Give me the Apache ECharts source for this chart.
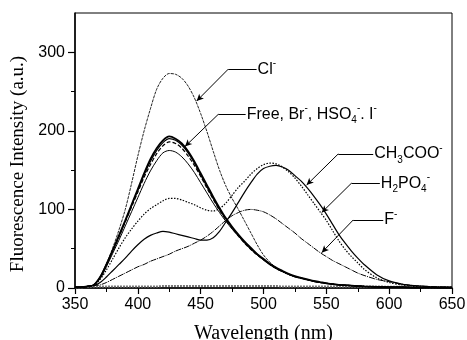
<!DOCTYPE html>
<html>
<head>
<meta charset="utf-8">
<script src="https://cdn.jsdelivr.net/npm/echarts@6/dist/echarts.min.js"></script>
<style>
  html, body { margin: 0; padding: 0; background: #fff; }
  #chart { width: 467px; height: 340px; }
</style>
</head>
<body>
<div id="chart"></div>
<script>
// wavelength grid (nm) shared by every spectrum
const wavelength = [350,355,360,365,370,375,380,385,390,395,400,405,410,415,420,425,430,435,440,445,450,455,460,465,470,475,480,485,490,495,500,505,510,515,520,525,530,535,540,545,550,555,560,565,570,575,580,590,600,610,620,630,640,650];

const clValues    = [1,1,2,4,14,31,51,74,100,133,168,200,228,253,267,273,272,267,257,242,222,199,174,150,130,114,100,85,70,55,42,33,26,21,17,14,12,10,8.5,7,6,5,4,3.5,3,2.5,2,1.5,1,1,0.5,0.5,0.3,0.3];
const freeValues  = [1,1,2,4,14,30,48,67,86,106,126,146,164,178,188,193,190,184,174,161,146,131,116,102,89,78,68,59,51,43,37,31,26,22,18,15,13,11,9,7.5,6,5,4,3.5,3,2.5,2,1.5,1,1,0.5,0.5,0.3,0.3];
const brValues    = [1,1,2,4,14,30,48,66,85,105,124,144,161,175,185,190,188,182,172,159,144,129,114,100,88,77,67,58,50,43,36,30,25,21,17.5,14.5,12.5,10.5,8.5,7,6,5,4,3.5,3,2.5,2,1.5,1,1,0.5,0.5,0.3,0.3];
const hso4Values  = [1,1,2,4,13,29,47,65,84,103,122,141,157,171,181,186,184,178,168,156,142,127,113,99,87,76,66,57,49,42,36,30,25,21,17.5,14.5,12.5,10.5,8.5,7,6,5,4,3.5,3,2.5,2,1.5,1,1,0.5,0.5,0.3,0.3];
const iValues     = [1,1,2,4,12,27,44,61,79,97,115,133,149,162,172,175,173,167,158,147,134,121,108,96,85,75,66,57,49,42,36,30,25,21,17.5,14.5,12.5,10.5,8.5,7,6,5,4,3.5,3,2.5,2,1.5,1,1,0.5,0.5,0.3,0.3];
const acoValues   = [1,1,2,3,7,14,22,30,38,47,55,62,67,70,72,71,69,67,65,63,61,61,64,72,84,96,109,122,134,145,152,155,156,154,150,143,136,127,117,106,94,81,68,57,47,38,30,17,9,5,3,2,1,1];
const h2po4Values = [1,1,2,4,11,23,37,51,64,75,85,94,101,106,111,114,114,112,109,106,102,99,98,101,108,118,128,136,145,152,157,159,158,154,148,140,130,119,108,97,86,73,60,49,40,32,24,13,7,4,2,1,1,0.5];
const fValues     = [1,1,2,3,4,7,11,15,19,23,27,30,34,37,40,43,47,50,53,57,61,66,72,79,86,92,96,99,100,99,97,93,88,82,76,70,63,57,51,45,40,35,31,27,23,19,16,11,8,5,3,2,1.5,1];
const blankValues = [1,1,1.5,2,2,2,2,2,2,2,2,2,2,2,2.5,2.5,2.5,2.5,2.5,2.5,2.5,2.5,2.5,2.5,2.5,2.5,2.5,2.5,2.5,2.5,2.5,2.5,2.5,2,2,2,2,2,2,2,2,2,2,2,2,2,2,2,1.5,1.5,1.5,1,1,1];

const xTicks = [350, 400, 450, 500, 550, 600, 650];
const yTicks = [0, 100, 200, 300];
const yMinorTicks = [50, 150, 250];

// leader lines: [tip on curve, elbow, end of horizontal], in data units
const notes = [
  { text: '{t|Cl}{sup|-}',                                 tip: [446.8, 238], elbow: [472, 278.6], end: [494.5, 278.6] },
  { text: '{t|Free, Br}{sup|-}{t|, HSO}{sub|4}{sup|-}{t|. I}{sup|-}', tip: [437.5, 180], elbow: [464, 221], end: [485.8, 221] },
  { text: '{t|CH}{sub|3}{t|COO}{sup|-}',                   tip: [534.3, 131], elbow: [559.5, 170.7], end: [587.3, 170.7] },
  { text: '{t|H}{sub|2}{t|PO}{sub|4}{sup|-}',              tip: [546.3, 96], elbow: [570, 133.4], end: [592.6, 133.4] },
  { text: '{t|F}{sup|-}',                                  tip: [546.3, 45], elbow: [571.4, 86.6], end: [595.3, 86.6] }
];

const sans = 'Liberation Sans';
const serif = 'Liberation Serif';

const rich = {
  t: { fontFamily: sans, fontSize: 16, color: '#000', lineHeight: 22 },
  sub: { fontFamily: sans, fontSize: 10, color: '#000', verticalAlign: 'bottom' },
  sup: { fontFamily: sans, fontSize: 10, color: '#000', verticalAlign: 'top' }
};

function pairs(values) {
  return wavelength.map((w, i) => [w, values[i]]);
}

function spectrum(name, values, style) {
  return {
    name: name,
    type: 'line',
    data: pairs(values),
    showSymbol: false,
    smooth: 0.3,
    lineStyle: Object.assign({ color: '#000', width: 1.1 }, style),
    z: 3
  };
}

const markData = [];
notes.forEach(n => {
  markData.push([
    { coord: n.elbow, symbol: 'none', label: { show: false } },
    { coord: n.tip, symbol: 'arrow', symbolSize: [5, 7] }
  ]);
  markData.push([
    { coord: n.elbow, symbol: 'none',
      label: { show: true, position: 'end', distance: 1, formatter: n.text, rich: rich } },
    { coord: n.end, symbol: 'none' }
  ]);
});

const chart = echarts.init(document.getElementById('chart'));

chart.setOption({
  animation: false,
  grid: { left: 75, right: 15, top: 13, bottom: 52, outerBoundsMode: 'none',
          show: true, borderColor: '#000', borderWidth: 1 },
  xAxis: {
    type: 'value', min: 350, max: 650, interval: 50,
    name: 'Wavelength (nm)', nameLocation: 'middle', nameGap: 36,
    nameTextStyle: { fontFamily: serif, fontSize: 20, color: '#000' },
    axisLine: { onZero: false, lineStyle: { color: '#000', width: 1.5 } },
    axisTick: { length: 6, lineStyle: { color: '#000', width: 1.2 } },
    minorTick: { show: true, splitNumber: 2, length: 4, lineStyle: { color: '#000', width: 1 } },
    splitLine: { show: false },
    axisLabel: { fontFamily: sans, fontSize: 16, color: '#000', margin: 9,
                 customValues: xTicks }
  },
  yAxis: [
    {
      type: 'value', min: 0, max: 350,
      name: 'Fluorescence Intensity (a.u.)', nameLocation: 'middle', nameGap: 34,
      nameTextStyle: { fontFamily: serif, fontSize: 19, color: '#000', padding: [0, 27, 0, 0] },
      axisLine: { show: true, onZero: false, lineStyle: { color: '#000', width: 1.5 } },
      axisTick: { show: true, length: 7, customValues: yTicks, lineStyle: { color: '#000', width: 1.2 } },
      splitLine: { show: false },
      axisLabel: { fontFamily: sans, fontSize: 16, color: '#000', margin: 10, customValues: yTicks }
    },
    {
      type: 'value', min: 0, max: 350, position: 'left',
      axisLine: { show: false },
      axisTick: { show: true, length: 4, customValues: yMinorTicks, lineStyle: { color: '#000', width: 1 } },
      axisLabel: { show: false },
      splitLine: { show: false }
    }
  ],
  series: [
    Object.assign(spectrum('blank', blankValues, { color: '#777', width: 2, type: [2, 1] }), {
      markLine: {
        silent: true,
        symbol: ['none', 'none'],
        lineStyle: { color: '#000', width: 1, type: 'solid' },
        label: { show: false },
        data: markData
      }
    }),
    spectrum('Cl-', clValues, { color: '#222', width: 1, type: [3, 1] }),
    spectrum('I-', iValues, { width: 1 }),
    spectrum('HSO4-', hso4Values, { width: 1.2, type: [4, 2] }),
    spectrum('Br-', brValues, { width: 1.2 }),
    spectrum('Free', freeValues, { width: 1.8 }),
    spectrum('CH3COO-', acoValues, { width: 1.2 }),
    spectrum('H2PO4-', h2po4Values, { width: 1.2, type: [1.5, 1.5] }),
    spectrum('F-', fValues, { width: 1, type: [6, 1, 1, 1] })
  ]
});
</script>
</body>
</html>
